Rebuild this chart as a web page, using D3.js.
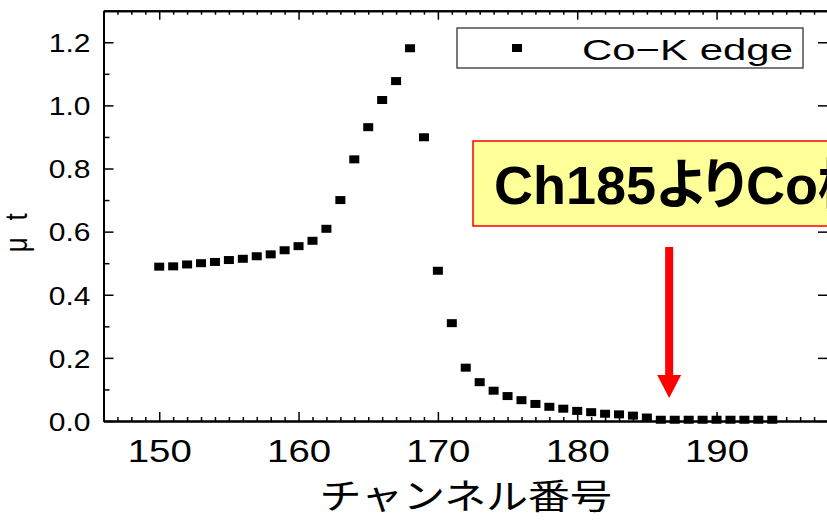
<!DOCTYPE html>
<html>
<head>
<meta charset="utf-8">
<script src="https://cdn.jsdelivr.net/npm/d3@7"></script>
<style>
  html, body { margin: 0; padding: 0; background: #fff; }
  svg { display: block; }
  .palt { font-feature-settings: "palt" 1; }
</style>
</head>
<body>
<svg id="chart" width="827" height="520"></svg>
<script>
// ---- data ----
const channels = [150,151,152,153,154,155,156,157,158,159,160,161,162,163,164,165,166,167,168,169,170,
                  171,172,173,174,175,176,177,178,179,180,181,182,183,184,185,186,187,188,189,190,191,192,193,194];
const muT = [0.489,0.490,0.496,0.500,0.504,0.510,0.514,0.522,0.528,0.541,0.554,0.571,0.609,0.700,0.829,0.931,1.017,1.077,1.181,0.899,0.476,
             0.310,0.169,0.123,0.096,0.079,0.066,0.054,0.045,0.039,0.032,0.028,0.023,0.021,0.017,0.011,0.004,0.004,0.004,0.004,0.004,0.004,0.004,0.004,0.004];
const xTicks = [150,160,170,180,190];
const xMinorTicks = [146,147,148,149,151,152,153,154,155,156,157,158,159,161,162,163,164,165,166,167,168,169,
                     171,172,173,174,175,176,177,178,179,181,182,183,184,185,186,187,188,189,191,192,193,194,195,196,197];
const yTicks = [0.0,0.2,0.4,0.6,0.8,1.0,1.2];
const yMinorTicks = [0.1,0.3,0.5,0.7,0.9,1.1];
const seriesName = "Co\u2212K edge";
const xTitle = "チャンネル番号";
const yTitle = "\u03bc t";
const noteText = "Ch185よりCo検出";
const arrowChannel = 186.6;

// ---- layout ----
const svg = d3.select("#chart");
const x = d3.scaleLinear().domain([146, 198]).range([103.5, 828]);
const y = d3.scaleLinear().domain([0, 1.3]).range([421, 10.7]);
const STRETCH = 1.2;

const g = svg.append("g");

function styleAxis(sel) {
  sel.selectAll("path.domain").attr("stroke", "#000").attr("stroke-width", 2);
  sel.selectAll(".tick line").attr("stroke", "#000").attr("stroke-width", 1.5);
}

// minor x ticks (bottom + top)
g.append("g").attr("transform", `translate(0,${y(0)})`)
  .call(d3.axisBottom(x).tickValues(xMinorTicks).tickSize(-4).tickSizeOuter(0).tickFormat(""))
  .call(styleAxis);
g.append("g").attr("transform", `translate(0,${y(1.3)})`)
  .call(d3.axisTop(x).tickValues(xMinorTicks).tickSize(-4).tickSizeOuter(0).tickFormat(""))
  .call(styleAxis);
// major x ticks
const xAx = g.append("g").attr("transform", `translate(0,${y(0)})`)
  .call(d3.axisBottom(x).tickValues(xTicks).tickSize(-9).tickSizeOuter(0).tickPadding(18).tickFormat(d3.format("d")))
  .call(styleAxis);
xAx.selectAll("text")
  .attr("font-family", "'Liberation Sans', Arial, sans-serif")
  .attr("font-size", 32).attr("fill", "#000")
  .attr("transform", `scale(${STRETCH},1)`);
g.append("g").attr("transform", `translate(0,${y(1.3)})`)
  .call(d3.axisTop(x).tickValues(xTicks).tickSize(-9).tickSizeOuter(0).tickFormat(""))
  .call(styleAxis);

// y axis
g.append("g").attr("transform", `translate(${x(146)},0)`)
  .call(d3.axisLeft(y).tickValues(yMinorTicks).tickSize(-6).tickSizeOuter(0).tickFormat(""))
  .call(styleAxis);
const yAx = g.append("g").attr("transform", `translate(${x(146)},0)`)
  .call(d3.axisLeft(y).tickValues(yTicks).tickSize(-10).tickSizeOuter(0).tickPadding(13).tickFormat(d3.format(".1f")))
  .call(styleAxis);
yAx.selectAll("text")
  .attr("font-family", "'Liberation Sans', Arial, sans-serif")
  .attr("font-size", 25).attr("fill", "#000")
  .attr("x", -13 / STRETCH).attr("dy", "0.37em")
  .attr("transform", `scale(${STRETCH},1)`);
// right frame (at plot edge)
g.append("g").attr("transform", `translate(${x(198)},0)`)
  .call(d3.axisRight(y).tickValues(yTicks).tickSize(-10).tickSizeOuter(0).tickFormat(""))
  .call(styleAxis);

// axis titles
svg.append("text")
  .attr("transform", `translate(${(x(146) + x(198)) / 2},509) scale(${STRETCH},1)`)
  .attr("text-anchor", "middle")
  .attr("font-family", "'Noto Sans CJK JP', sans-serif")
  .attr("font-size", 35).attr("fill", "#000")
  .text(xTitle);
svg.append("text")
  .attr("transform", `translate(27,${(y(0) + y(1.3)) / 2 + 17}) rotate(-90) scale(1,${STRETCH})`)
  .attr("text-anchor", "middle")
  .attr("font-family", "'Liberation Sans', Arial, sans-serif")
  .attr("font-size", 26).attr("fill", "#000")
  .attr("textLength", 39).attr("lengthAdjust", "spacing")
  .text(yTitle);

// data markers
const MW = 10, MH = 8;
g.append("g").selectAll("rect")
  .data(channels.map((c, i) => ({ c, v: muT[i] })))
  .join("rect")
  .attr("x", d => x(d.c) - MW / 2)
  .attr("y", d => y(d.v) - MH / 2)
  .attr("width", MW).attr("height", MH)
  .attr("fill", "#000");

// legend
const leg = svg.append("g");
leg.append("rect").attr("x", 457).attr("y", 28).attr("width", 346).attr("height", 40)
  .attr("fill", "#fff").attr("stroke", "#333").attr("stroke-width", 1.3);
leg.append("rect").attr("x", 517 - MW / 2).attr("y", 48 - MH / 2).attr("width", MW).attr("height", MH).attr("fill", "#000");
leg.append("text").attr("x", 582).attr("y", 60)
  .attr("font-family", "'Liberation Sans', Arial, sans-serif")
  .attr("font-size", 30).attr("fill", "#000")
  .attr("textLength", 211).attr("lengthAdjust", "spacingAndGlyphs")
  .text(seriesName);

// annotation box
const note = svg.append("g");
note.append("rect").attr("x", 473).attr("y", 141).attr("width", 420).attr("height", 85)
  .attr("fill", "#FFFF99").attr("stroke", "#FF0000").attr("stroke-width", 1.5);
note.append("text").attr("class", "palt").attr("x", 494).attr("y", 204)
  .attr("font-family", "'Liberation Sans', 'Noto Sans CJK JP', Arial, sans-serif")
  .attr("font-weight", "bold").attr("font-size", 54).attr("fill", "#000")
  .text(noteText);

// arrow
const ax = x(arrowChannel);
svg.append("line").attr("x1", ax).attr("x2", ax).attr("y1", 247).attr("y2", 377)
  .attr("stroke", "#FF0000").attr("stroke-width", 8);
svg.append("path")
  .attr("d", `M${ax - 12},375 L${ax + 12},375 L${ax},398 Z`)
  .attr("fill", "#FF0000");
</script>
</body>
</html>
